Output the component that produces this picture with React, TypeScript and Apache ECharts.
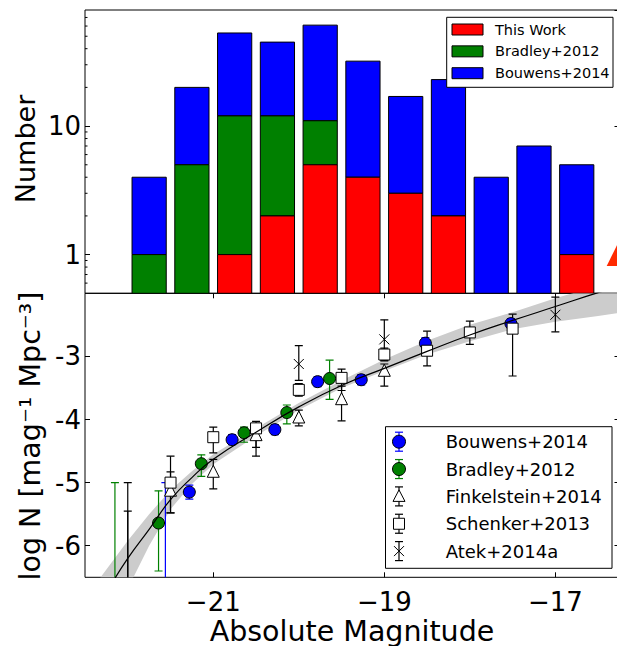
import React, { useEffect, useRef } from 'react';
import * as echarts from 'echarts';

// ---------- Top panel: number of galaxies per magnitude bin ----------
const binCenters = [-21.75, -21.25, -20.75, -20.25, -19.75, -19.25, -18.75, -18.25, -17.75, -17.25, -16.75];
const thisWorkCounts = [0, 0, 1, 2, 5, 4, 3, 2, 0, 0, 1];
const bradleyCounts = [1, 5, 11, 10, 6, 0, 0, 0, 0, 0, 0];
const bouwensCounts = [3, 15, 41, 33, 50, 28, 14, 21, 4, 7, 4];
const countMinorTicks = [0.6, 0.7, 0.8, 0.9, 2, 3, 4, 5, 6, 7, 8, 9, 20, 30, 40, 50, 60, 70];

// ---------- Bottom panel: luminosity function [mag, logN, errDown, errUp] ----------
const bouwensLF = [
  [-21.56, -7.0, 1.0, 2.0],
  [-21.28, -5.15, 0.11, 0.11],
  [-20.78, -4.32, 0.08, 0.08],
  [-20.28, -4.16, 0.08, 0.08],
  [-19.78, -3.40, 0.08, 0.08],
  [-19.27, -3.37, 0.08, 0.08],
  [-18.52, -2.79, 0.09, 0.09],
  [-17.52, -2.48, 0.08, 0.08],
];
const bradleyLF = [
  [-22.15, -7.0, 1.0, 2.0],
  [-21.64, -5.64, 0.76, 0.51],
  [-21.14, -4.70, 0.20, 0.14],
  [-20.64, -4.21, 0.15, 0.09],
  [-20.14, -3.89, 0.18, 0.12],
  [-19.64, -3.35, 0.33, 0.29],
];
const finkelsteinLF = [
  [-21.5, -5.12, 0.36, 0.29],
  [-21.0, -4.82, 0.28, 0.19],
  [-20.5, -4.24, 0.20, 0.10],
  [-20.0, -3.96, 0.14, 0.11],
  [-19.5, -3.67, 0.35, 0.20],
  [-19.0, -3.22, 0.25, 0.10],
];
const schenkerLF = [
  [-22.0, -7.0, 1.0, 1.55],
  [-21.5, -5.0, 0.48, 0.42],
  [-21.0, -4.28, 0.25, 0.16],
  [-20.5, -4.14, 0.44, 0.11],
  [-20.0, -3.53, 0.10, 0.10],
  [-19.5, -3.34, 0.20, 0.14],
  [-19.0, -2.97, 0.10, 0.10],
  [-18.5, -2.91, 0.24, 0.31],
  [-18.0, -2.62, 0.19, 0.18],
  [-17.5, -2.56, 0.75, 0.23],
];
const atekLF = [
  [-22.0, -7.0, 1.0, 2.0],
  [-20.0, -3.12, 0.26, 0.29],
  [-19.0, -2.73, 0.33, 0.31],
  [-17.0, -2.34, 0.27, 0.28],
];

// best-fit model curve and its confidence band
const modelMag = [-22.2, -22.0, -21.75, -21.5, -21.25, -21.0, -20.5, -20.0, -19.5, -19.0, -18.5, -18.0, -17.5, -17.0, -16.5, -16.0];
const modelLogN = [-6.63, -6.20, -5.74, -5.27, -4.92, -4.63, -4.20, -3.80, -3.46, -3.19, -2.92, -2.66, -2.43, -2.21, -1.99, -1.79];
const bandMag = [-22.4, -22.0, -21.75, -21.5, -21.25, -21.0, -20.5, -20.0, -19.5, -19.0, -18.5, -18.0, -17.5, -17.0, -16.5, -16.0];
const bandLow = [-7.30, -6.68, -6.00, -5.42, -5.02, -4.71, -4.26, -3.85, -3.50, -3.23, -2.97, -2.76, -2.57, -2.45, -2.36, -2.26];
const bandHigh = [-6.65, -5.92, -5.50, -5.12, -4.82, -4.55, -4.14, -3.74, -3.38, -3.05, -2.75, -2.50, -2.30, -2.08, -1.88, -1.70];

const magTicks = [-21, -19, -17];
const logNTicks = [-6, -5, -4, -3];

// ---------- layout / style constants ----------
const FONT = 'DejaVu Sans';
const X_MIN = -22.5;
const X_MAX = -16.25;
const TOP_Y_MIN = 0.5;
const TOP_Y_MAX = 80;
const BOT_Y_MIN = -6.5;
const BOT_Y_MAX = -2.0;
const GRID_LEFT = 85;
const GRID_W = 534.5;
const BAR_HALF = 0.2;
const CAP = 4;

const RED = '#ff0000';
const GREEN = '#008000';
const BLUE = '#0000ff';

const NAME_THIS = 'This Work';
const NAME_BRAD = 'Bradley+2012';
const NAME_BOUW = 'Bouwens+2014';
const NAME_FINK = 'Finkelstein+2014';
const NAME_SCHE = 'Schenker+2013';
const NAME_ATEK = 'Atek+2014a';

const X_SYMBOL = 'path://M0,0L10,10M0,10L10,0';

function buildBarData() {
  const red: number[][] = [];
  const green: number[][] = [];
  const blue: number[][] = [];
  binCenters.forEach((c, i) => {
    const r = thisWorkCounts[i];
    const g = bradleyCounts[i];
    const b = bouwensCounts[i];
    if (r > 0) red.push([c, r, TOP_Y_MIN]);
    if (g > 0) green.push([c, r + g, r > 0 ? r : TOP_Y_MIN]);
    if (b > 0) blue.push([c, r + g + b, r + g > 0 ? r + g : TOP_Y_MIN]);
  });
  return { red, green, blue };
}

function barSeries(name: string, data: number[][], color: string) {
  return {
    type: 'custom',
    name,
    xAxisIndex: 0,
    yAxisIndex: 0,
    clip: true,
    z: 2,
    encode: { x: 0, y: [1, 2] },
    data,
    renderItem: (params: any, api: any) => {
      const c = api.value(0);
      const p1 = api.coord([c - BAR_HALF, api.value(1)]);
      const p2 = api.coord([c + BAR_HALF, api.value(2)]);
      return {
        type: 'rect',
        shape: { x: p1[0], y: p1[1], width: p2[0] - p1[0], height: p2[1] - p1[1] },
        style: { fill: color, stroke: '#000', lineWidth: 1 },
      };
    },
  };
}

function errorBarSeries(name: string, data: number[][], color: string) {
  return {
    type: 'custom',
    name: name + ' err',
    xAxisIndex: 1,
    yAxisIndex: 2,
    clip: true,
    z: 3,
    encode: { x: 0, y: 1 },
    data,
    renderItem: (params: any, api: any) => {
      const x = api.value(0);
      const y = api.value(1);
      const top = api.coord([x, y + api.value(3)]);
      const bot = api.coord([x, y - api.value(2)]);
      const st = { stroke: color, lineWidth: 1.2 };
      return {
        type: 'group',
        children: [
          { type: 'line', shape: { x1: top[0], y1: top[1], x2: bot[0], y2: bot[1] }, style: st },
          { type: 'line', shape: { x1: top[0] - CAP, y1: top[1], x2: top[0] + CAP, y2: top[1] }, style: st },
          { type: 'line', shape: { x1: bot[0] - CAP, y1: bot[1], x2: bot[0] + CAP, y2: bot[1] }, style: st },
        ],
      };
    },
  };
}

function markerSeries(name: string, data: number[][], symbol: string, size: number, fill: string) {
  return {
    type: 'scatter',
    name,
    xAxisIndex: 1,
    yAxisIndex: 2,
    clip: true,
    z: 4,
    symbol,
    symbolSize: size,
    data: data.map((p) => [p[0], p[1]]),
    itemStyle: { color: fill, borderColor: '#000', borderWidth: 1, opacity: 1 },
    emphasis: { disabled: true },
  };
}

function legendMarker(kind: string, cx: number, cy: number, fill: string, errColor: string) {
  const st = { stroke: errColor, lineWidth: 1.2 };
  const els: any[] = [
    { type: 'line', shape: { x1: cx, y1: cy - 9.5, x2: cx, y2: cy + 9.5 }, style: st, z: 101 },
    { type: 'line', shape: { x1: cx - CAP, y1: cy - 9.5, x2: cx + CAP, y2: cy - 9.5 }, style: st, z: 101 },
    { type: 'line', shape: { x1: cx - CAP, y1: cy + 9.5, x2: cx + CAP, y2: cy + 9.5 }, style: st, z: 101 },
  ];
  const ms = { fill, stroke: '#000', lineWidth: 1 };
  if (kind === 'circle') els.push({ type: 'circle', shape: { cx, cy, r: 6.5 }, style: ms, z: 102 });
  if (kind === 'triangle')
    els.push({ type: 'polygon', shape: { points: [[cx, cy - 6.5], [cx - 6, cy + 5], [cx + 6, cy + 5]] }, style: ms, z: 102 });
  if (kind === 'rect') els.push({ type: 'rect', shape: { x: cx - 5.5, y: cy - 5.5, width: 11, height: 11 }, style: ms, z: 102 });
  if (kind === 'x') {
    const xs = { stroke: '#000', lineWidth: 1 };
    els.push({ type: 'line', shape: { x1: cx - 5, y1: cy - 5, x2: cx + 5, y2: cy + 5 }, style: xs, z: 102 });
    els.push({ type: 'line', shape: { x1: cx - 5, y1: cy + 5, x2: cx + 5, y2: cy - 5 }, style: xs, z: 102 });
  }
  return els;
}

function textEl(text: string, x: number, y: number, size: number, align = 'left', rotation = 0) {
  return {
    type: 'text',
    x,
    y,
    rotation,
    z: 103,
    style: {
      text,
      fontSize: size,
      fontFamily: FONT,
      fill: '#000',
      align,
      verticalAlign: 'middle',
      textAlign: align,
      textVerticalAlign: 'middle',
    },
  };
}

function buildOption() {
  const bars = buildBarData();

  const graphics: any[] = [];
  // axis titles
  graphics.push(textEl('Number', 25.5, 149, 27, 'center', Math.PI / 2));
  graphics.push(textEl('log N [mag\u207B\u00B9 Mpc\u207B\u00B3]', 30.5, 436, 28.5, 'center', Math.PI / 2));
  graphics.push(textEl('Absolute Magnitude', 352, 631, 28.5, 'center'));

  // top legend
  graphics.push({ type: 'rect', shape: { x: 446.7, y: 17.3, width: 166.3, height: 70 }, style: { fill: '#fff', stroke: '#000', lineWidth: 1 }, z: 100 });
  const topLeg = [
    { name: NAME_THIS, color: RED },
    { name: NAME_BRAD, color: GREEN },
    { name: NAME_BOUW, color: BLUE },
  ];
  topLeg.forEach((it, i) => {
    const cy = 29.5 + i * 21.85;
    graphics.push({ type: 'rect', shape: { x: 452, y: cy - 5.5, width: 31, height: 11 }, style: { fill: it.color, stroke: '#000', lineWidth: 1 }, z: 101 });
    graphics.push(textEl(it.name, 495, cy, 14.5));
  });

  // bottom legend
  graphics.push({ type: 'rect', shape: { x: 385.5, y: 426.7, width: 226.5, height: 141.6 }, style: { fill: '#fff', stroke: '#000', lineWidth: 1 }, z: 100 });
  const botLeg = [
    { name: NAME_BOUW, kind: 'circle', fill: BLUE, err: BLUE },
    { name: NAME_BRAD, kind: 'circle', fill: GREEN, err: GREEN },
    { name: NAME_FINK, kind: 'triangle', fill: '#fff', err: '#000' },
    { name: NAME_SCHE, kind: 'rect', fill: '#fff', err: '#000' },
    { name: NAME_ATEK, kind: 'x', fill: 'none', err: '#000' },
  ];
  botLeg.forEach((it, i) => {
    const cy = 441.7 + i * 27.35;
    legendMarker(it.kind, 399, cy, it.fill, it.err).forEach((e) => graphics.push(e));
    graphics.push(textEl(it.name, 445.7, cy, 18));
  });

  // partial red marker at right edge
  graphics.push({ type: 'polygon', shape: { points: [[606.7, 266], [625, 229], [643, 266]] }, style: { fill: '#ff2a00' }, z: 50 });

  const tickStyle = { color: '#000', width: 1 };
  const labelStyle = { color: '#000', fontFamily: FONT, fontSize: 26 };

  return {
    animation: false,
    backgroundColor: '#fff',
    grid: [
      { left: GRID_LEFT, top: 10, width: GRID_W, height: 283.3, show: true, borderColor: '#000', borderWidth: 1, backgroundColor: 'transparent', containLabel: false, outerBoundsMode: 'none' },
      { left: GRID_LEFT, top: 293.3, width: GRID_W, height: 284, show: true, borderColor: '#000', borderWidth: 1, backgroundColor: 'transparent', containLabel: false, outerBoundsMode: 'none' },
    ],
    xAxis: [
      { gridIndex: 0, type: 'value', min: X_MIN, max: X_MAX, axisLine: { show: false }, axisTick: { show: false }, axisLabel: { show: false }, splitLine: { show: false } },
      {
        gridIndex: 1, type: 'value', min: X_MIN, max: X_MAX, position: 'bottom',
        axisLine: { show: false },
        axisTick: { show: true, inside: true, length: 5, customValues: magTicks, lineStyle: tickStyle },
        axisLabel: { show: true, customValues: magTicks, margin: 12, formatter: (v: number) => '\u2212' + Math.abs(v), ...labelStyle },
        splitLine: { show: false },
      },
      {
        gridIndex: 1, type: 'value', min: X_MIN, max: X_MAX, position: 'top',
        axisLine: { show: false },
        axisTick: { show: true, inside: true, length: 5, customValues: magTicks, lineStyle: tickStyle },
        axisLabel: { show: false },
        splitLine: { show: false },
      },
    ],
    yAxis: [
      {
        gridIndex: 0, type: 'log', logBase: 10, min: TOP_Y_MIN, max: TOP_Y_MAX, position: 'left',
        axisLine: { show: false },
        axisTick: { show: true, inside: true, length: 5, lineStyle: tickStyle },
        axisLabel: { show: true, margin: 4, showMinLabel: false, showMaxLabel: false, formatter: (v: number) => String(Math.round(v)), ...labelStyle },
        splitLine: { show: false },
      },
      {
        gridIndex: 0, type: 'log', logBase: 10, min: TOP_Y_MIN, max: TOP_Y_MAX, position: 'right',
        axisLine: { show: false },
        axisTick: { show: true, inside: true, length: 5, lineStyle: tickStyle },
        axisLabel: { show: false },
        splitLine: { show: false },
      },
      {
        gridIndex: 1, type: 'value', min: BOT_Y_MIN, max: BOT_Y_MAX, position: 'left',
        axisLine: { show: false },
        axisTick: { show: true, inside: true, length: 5, customValues: logNTicks, lineStyle: tickStyle },
        axisLabel: { show: true, margin: 4, customValues: logNTicks, formatter: (v: number) => String(v), ...labelStyle },
        splitLine: { show: false },
      },
      {
        gridIndex: 1, type: 'value', min: BOT_Y_MIN, max: BOT_Y_MAX, position: 'right',
        axisLine: { show: false },
        axisTick: { show: true, inside: true, length: 5, customValues: logNTicks, lineStyle: tickStyle },
        axisLabel: { show: false },
        splitLine: { show: false },
      },
    ],
    series: [
      barSeries(NAME_BOUW, bars.blue, BLUE),
      barSeries(NAME_BRAD, bars.green, GREEN),
      barSeries(NAME_THIS, bars.red, RED),
      {
        type: 'custom',
        name: 'minor ticks',
        xAxisIndex: 0,
        yAxisIndex: 0,
        z: 5,
        encode: { x: 0, y: 1 },
        data: countMinorTicks.map((v) => [X_MIN, v]),
        renderItem: (params: any, api: any) => {
          const p = api.coord([api.value(0), api.value(1)]);
          return { type: 'line', shape: { x1: p[0], y1: p[1], x2: p[0] + 2.5, y2: p[1] }, style: { stroke: '#000', lineWidth: 1 } };
        },
      },
      {
        type: 'custom',
        name: 'model band',
        xAxisIndex: 1,
        yAxisIndex: 2,
        clip: true,
        z: 1,
        encode: { x: 0, y: [1, 2] },
        data: bandMag.map((m, i) => [m, bandLow[i], bandHigh[i]]),
        renderItem: (params: any, api: any) => {
          if (params.dataIndex !== 0) return { type: 'group', children: [] };
          const upper = bandMag.map((m, i) => api.coord([m, bandHigh[i]]));
          const lower = bandMag.map((m, i) => api.coord([m, bandLow[i]])).reverse();
          return { type: 'polygon', shape: { points: upper.concat(lower) }, style: { fill: '#cccccc', stroke: 'none' } };
        },
      },
      errorBarSeries(NAME_BOUW, bouwensLF, BLUE),
      markerSeries(NAME_BOUW, bouwensLF, 'circle', 12, BLUE),
      errorBarSeries(NAME_BRAD, bradleyLF, GREEN),
      markerSeries(NAME_BRAD, bradleyLF, 'circle', 12, GREEN),
      errorBarSeries(NAME_FINK, finkelsteinLF, '#000'),
      markerSeries(NAME_FINK, finkelsteinLF, 'triangle', 12, '#fff'),
      errorBarSeries(NAME_SCHE, schenkerLF, '#000'),
      markerSeries(NAME_SCHE, schenkerLF, 'rect', 11, '#fff'),
      errorBarSeries(NAME_ATEK, atekLF, '#000'),
      markerSeries(NAME_ATEK, atekLF, X_SYMBOL, 10, 'rgba(0,0,0,0)'),
      {
        type: 'line',
        name: 'model',
        xAxisIndex: 1,
        yAxisIndex: 2,
        clip: true,
        z: 6,
        smooth: true,
        symbol: 'none',
        data: modelMag.map((m, i) => [m, modelLogN[i]]),
        lineStyle: { color: '#000', width: 1.2 },
        emphasis: { disabled: true },
      },
    ],
    graphic: { elements: graphics },
  };
}

export default function App() {
  const ref = useRef<HTMLDivElement>(null);
  useEffect(() => {
    if (!ref.current) return;
    const chart = echarts.init(ref.current, null, { renderer: 'svg' });
    chart.setOption(buildOption() as any);
    return () => chart.dispose();
  }, []);
  return (
    <div
      ref={ref}
      style={{ position: 'fixed', left: 0, top: 0, width: 630, height: 646, background: '#fff' }}
    />
  );
}
